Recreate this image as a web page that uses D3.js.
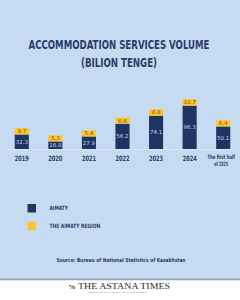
<!DOCTYPE html>
<html>
<head>
	<meta charset="utf-8" />
	<title>Accommodation services volume</title>
	<script type="text/javascript" src="https://cdn.jsdelivr.net/npm/d3@7/dist/d3.min.js" charset="utf-8"></script>
	<style>
		html, body { margin: 0; padding: 0; background: #fff; }
		svg { display: block; }
		.cond { font-family: "Liberation Sans Narrow", "DejaVu Sans Condensed", "Roboto Condensed", sans-serif; font-weight: bold; }
	</style>
</head>
<body>

<div id="chart"><svg></svg></div>

<script type="text/javascript">
/* data */
var categories = ["2019", "2020", "2021", "2022", "2023", "2024", "The first half|of 2025"];
var almaty     = [32.3, 16.8, 27.9, 56.2, 74.1, 96.3, 50.1];
var region     = [9.7, 5.3, 5.4, 6.6, 8.8, 10.7, 6.4];
var seriesNames = ["AIMATY", "THE AlMATY REGION"];

var width = 240, height = 300;
var navy = "#1e3561", yellow = "#fdc52c", ink = "#2b3d66";

var svg = d3.select("#chart > svg")
	.attr("width", width)
	.attr("height", height);

// background panels
svg.append("rect").attr("width", width).attr("height", 280).attr("fill", "#c6daf2");
svg.append("rect").attr("y", 278.5).attr("width", width).attr("height", 2).attr("fill", "#8fa6c4");
svg.append("rect").attr("y", 280.5).attr("width", width).attr("height", 20).attr("fill", "#ffffff");

// title
svg.append("text").attr("class", "cond")
	.attr("x", 119).attr("y", 48.5)
	.attr("text-anchor", "middle")
	.attr("font-size", 12.5)
	.attr("textLength", 181).attr("lengthAdjust", "spacingAndGlyphs")
	.attr("fill", ink)
	.text("ACCOMMODATION SERVICES VOLUME");
svg.append("text").attr("class", "cond")
	.attr("x", 119).attr("y", 67)
	.attr("text-anchor", "middle")
	.attr("font-size", 12.5)
	.attr("textLength", 76).attr("lengthAdjust", "spacingAndGlyphs")
	.attr("fill", ink)
	.text("(BILION TENGE)");

var x = d3.scaleBand()
	.domain(categories)
	.range([5, 240])
	.paddingInner(0.58)
	.paddingOuter(0.29);

var y = d3.scaleLinear()
	.domain([0, 100])
	.range([149, 104]);

// yellow segment heights stay nearly constant in the original
var hy = d3.scaleLinear()
	.domain([0, 11])
	.range([5.6, 6.6]);

// baseline
svg.append("line")
	.attr("x1", 5).attr("x2", 235)
	.attr("y1", y(0) + 0.5).attr("y2", y(0) + 0.5)
	.attr("stroke", "#dbe7f6").attr("stroke-width", 1);

var bars = svg.selectAll("g.bar")
	.data(categories)
	.enter().append("g")
		.attr("class", "bar")
		.attr("transform", function(d) { return "translate(" + x(d) + ",0)"; });

bars.append("rect")
	.attr("width", x.bandwidth())
	.attr("y", function(d, i) { return y(almaty[i]); })
	.attr("height", function(d, i) { return y(0) - y(almaty[i]); })
	.attr("fill", navy);

bars.append("rect")
	.attr("width", x.bandwidth())
	.attr("y", function(d, i) { return y(almaty[i]) - hy(region[i]); })
	.attr("height", function(d, i) { return hy(region[i]); })
	.attr("fill", yellow);

bars.append("text")
	.attr("x", x.bandwidth() / 2)
	.attr("y", function(d, i) { return (y(almaty[i]) + y(0)) / 2 + 2; })
	.attr("text-anchor", "middle")
	.attr("font-family", "DejaVu Sans, sans-serif")
	.attr("font-size", 5.5)
	.attr("fill", "#c9d4e8")
	.text(function(d, i) { return almaty[i]; });

bars.append("text")
	.attr("x", x.bandwidth() / 2)
	.attr("y", function(d, i) { return y(almaty[i]) - hy(region[i]) / 2 + 2; })
	.attr("text-anchor", "middle")
	.attr("font-family", "DejaVu Sans, sans-serif")
	.attr("font-size", 5.5)
	.attr("fill", "#6e5a1e")
	.text(function(d, i) { return region[i]; });

// category labels (two-line label split on "|")
bars.each(function(d) {
	var parts = d.split("|");
	var g = d3.select(this);
	var cx = x.bandwidth() / 2;
	if (parts.length == 1) {
		g.append("text").attr("class", "cond")
			.attr("x", cx).attr("y", 161)
			.attr("text-anchor", "middle")
			.attr("font-size", 7.3)
			.attr("textLength", 14).attr("lengthAdjust", "spacingAndGlyphs")
			.attr("fill", ink)
			.text(d);
	} else {
		var widths = [27.6, 13.7];
		parts.forEach(function(p, k) {
			g.append("text").attr("class", "cond")
				.attr("x", cx - 2).attr("y", 158.5 + k * 7.8)
				.attr("text-anchor", "middle")
				.attr("font-size", 6)
				.attr("textLength", widths[k]).attr("lengthAdjust", "spacingAndGlyphs")
				.attr("fill", ink)
				.text(p);
		});
	}
});

// legend
var legendWidths = [18.4, 50.7];
var legend = svg.selectAll("g.legend")
	.data(seriesNames)
	.enter().append("g")
		.attr("class", "legend")
		.attr("transform", function(d, i) { return "translate(27.5," + (204 + i * 17.7) + ")"; });
legend.append("rect")
	.attr("width", 8.5).attr("height", 8.5)
	.attr("fill", function(d, i) { return i ? yellow : navy; });
legend.append("text").attr("class", "cond")
	.attr("x", 22).attr("y", 6.2)
	.attr("font-size", 5.8)
	.attr("textLength", function(d, i) { return legendWidths[i]; })
	.attr("lengthAdjust", "spacingAndGlyphs")
	.attr("fill", ink)
	.text(function(d) { return d; });

// source
svg.append("text").attr("class", "cond")
	.attr("x", 121).attr("y", 262)
	.attr("text-anchor", "middle")
	.attr("font-size", 5.5)
	.attr("textLength", 129).attr("lengthAdjust", "spacingAndGlyphs")
	.attr("fill", ink)
	.text("Source: Bureau of National Statistics of Kazakhstan");

// masthead
svg.append("text")
	.attr("x", 72).attr("y", 289)
	.attr("text-anchor", "middle")
	.attr("font-family", "Liberation Serif, DejaVu Serif, serif")
	.attr("font-weight", "bold")
	.attr("font-size", 7)
	.attr("fill", "#333")
	.text("%");
svg.append("text")
	.attr("x", 124).attr("y", 289)
	.attr("text-anchor", "middle")
	.attr("font-family", "Liberation Serif, DejaVu Serif, serif")
	.attr("font-size", 9)
	.attr("textLength", 92).attr("lengthAdjust", "spacingAndGlyphs")
	.attr("fill", "#2a2a2a")
	.text("THE ASTANA TIMES");
svg.append("text")
	.attr("x", 118).attr("y", 292.5)
	.attr("text-anchor", "middle")
	.attr("font-family", "Liberation Serif, DejaVu Serif, serif")
	.attr("font-size", 2.5)
	.attr("textLength", 58).attr("lengthAdjust", "spacingAndGlyphs")
	.attr("fill", "#555")
	.text("BRINGING KAZAKHSTAN TO THE WORLD");
</script>
</body>
</html>
